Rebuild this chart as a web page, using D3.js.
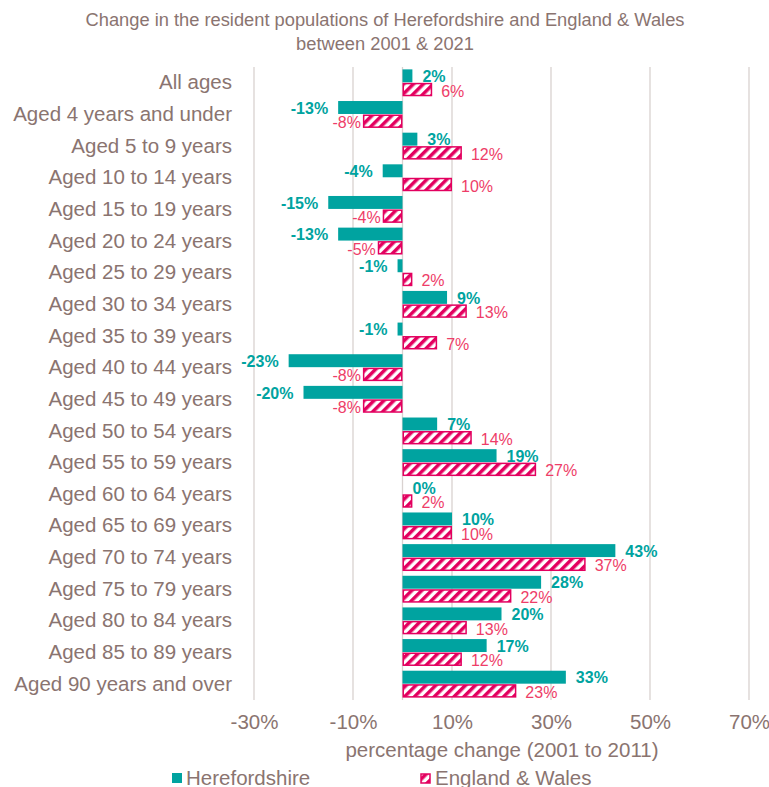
<!DOCTYPE html>
<html><head><meta charset="utf-8">
<script src="https://cdn.jsdelivr.net/npm/d3@7"></script>
<style>body{margin:0;background:#fff}svg{display:block;font-family:"Liberation Sans",Arial,sans-serif}</style>
</head><body><svg id="c" width="769" height="787"></svg>
<script>
const categories = ["All ages","Aged 4 years and under","Aged 5 to 9 years","Aged 10 to 14 years","Aged 15 to 19 years","Aged 20 to 24 years","Aged 25 to 29 years","Aged 30 to 34 years","Aged 35 to 39 years","Aged 40 to 44 years","Aged 45 to 49 years","Aged 50 to 54 years","Aged 55 to 59 years","Aged 60 to 64 years","Aged 65 to 69 years","Aged 70 to 74 years","Aged 75 to 79 years","Aged 80 to 84 years","Aged 85 to 89 years","Aged 90 years and over"];
const herefordshire = [2,-13,3,-4,-15,-13,-1,9,-1,-23,-20,7,19,0,10,43,28,20,17,33];
const englandWales = [6,-8,12,10,-4,-5,2,13,7,-8,-8,14,27,2,10,37,22,13,12,23];
const tickValues = [-30,-10,10,30,50,70];
const seriesNames = ["Herefordshire","England & Wales"];

const textCol = "#8a7470", teal = "#00a3a0", pink = "#e3005f", pinkLabel = "#ee3d68";
const FS = 20.5, LFS = 16;
const svg = d3.select("#c");
const defs = svg.append("defs");
const pat = defs.append("pattern").attr("id","hatch").attr("patternUnits","userSpaceOnUse")
  .attr("width",7).attr("height",7).attr("patternTransform","rotate(45)");
pat.append("rect").attr("width",7).attr("height",7).attr("fill","#fff");
pat.append("rect").attr("width",3.5).attr("height",7).attr("fill",pink);

const x = d3.scaleLinear().domain([-30,70]).range([254,749]);
const y = d3.scaleBand().domain(categories).range([67,700]).paddingInner(0.15).paddingOuter(0.075);
const yi = d3.scaleBand().domain(seriesNames).range([0,y.bandwidth()]);

// title
svg.append("text").attr("x",385).attr("y",26).attr("text-anchor","middle").attr("font-size",18.3).attr("fill",textCol)
  .text("Change in the resident populations of Herefordshire and England & Wales");
svg.append("text").attr("x",385).attr("y",50).attr("text-anchor","middle").attr("font-size",18.3).attr("fill",textCol)
  .text("between 2001 & 2021");

// gridlines
svg.append("g").selectAll("line").data(tickValues).join("line")
  .attr("x1",d=>x(d)).attr("x2",d=>x(d)).attr("y1",67).attr("y2",700)
  .attr("stroke","#d9d2d0").attr("stroke-width",1.3);
svg.append("line").attr("x1",x(0)).attr("x2",x(0)).attr("y1",67).attr("y2",700).attr("stroke","#d9d2d0").attr("stroke-width",1.3);

// x axis
const xa = svg.append("g").attr("transform","translate(0,700)")
  .call(d3.axisBottom(x).tickValues(tickValues).tickFormat(d=>d+"%").tickSize(0).tickPadding(14));
xa.select(".domain").remove();
xa.selectAll("text").attr("font-size",FS).attr("fill",textCol).attr("font-family","Liberation Sans, Arial, sans-serif");

// y axis labels
const ya = svg.append("g").attr("transform","translate(254,0)")
  .call(d3.axisLeft(y).tickSize(0).tickPadding(22));
ya.select(".domain").remove();
ya.selectAll("text").attr("font-size",FS).attr("fill",textCol).attr("font-family","Liberation Sans, Arial, sans-serif");

// bars
const bh = yi.bandwidth();
const g = svg.append("g");
g.selectAll("rect.h").data(categories).join("rect").attr("class","h")
  .attr("x",(d,i)=>x(Math.min(0,herefordshire[i]))).attr("width",(d,i)=>Math.abs(x(herefordshire[i])-x(0)))
  .attr("y",d=>y(d)+yi("Herefordshire")).attr("height",bh-0.5).attr("fill",teal);
g.selectAll("rect.e").data(categories).join("rect").attr("class","e")
  .attr("x",(d,i)=>x(Math.min(0,englandWales[i]))+0.75).attr("width",(d,i)=>Math.max(0,Math.abs(x(englandWales[i])-x(0))-1.5))
  .attr("y",d=>y(d)+yi("England & Wales")+0.75).attr("height",bh-1.5).attr("fill","url(#hatch)")
  .attr("stroke",pink).attr("stroke-width",1.5);

// labels
g.selectAll("text.h").data(categories).join("text").attr("class","h")
  .attr("x",(d,i)=>herefordshire[i]<0 ? x(herefordshire[i])-10 : x(herefordshire[i])+10)
  .attr("text-anchor",(d,i)=>herefordshire[i]<0?"end":"start")
  .attr("y",d=>y(d)+yi("Herefordshire")+bh/2+6).attr("font-size",LFS).attr("font-weight","bold").attr("fill",teal)
  .text((d,i)=>herefordshire[i]+"%");
g.selectAll("text.e").data(categories).join("text").attr("class","e")
  .attr("x",(d,i)=>englandWales[i]<0 ? x(englandWales[i])-2 : x(englandWales[i])+9)
  .attr("text-anchor",(d,i)=>englandWales[i]<0?"end":"start")
  .attr("y",d=>y(d)+yi("England & Wales")+bh/2+7).attr("font-size",LFS).attr("fill",pinkLabel)
  .text((d,i)=>englandWales[i]+"%");

// axis title
svg.append("text").attr("x",502).attr("y",757).attr("text-anchor","middle").attr("font-size",FS).attr("fill",textCol)
  .text("percentage change (2001 to 2011)");

// legend
const lg = svg.append("g");
lg.append("rect").attr("x",172).attr("y",773).attr("width",10).attr("height",10).attr("fill",teal);
lg.append("text").attr("x",186).attr("y",785).attr("font-size",FS).attr("fill",textCol).text(seriesNames[0]);
lg.append("rect").attr("x",421).attr("y",774).attr("width",9).attr("height",9).attr("fill","url(#hatch)").attr("stroke",pink).attr("stroke-width",1.5);
lg.append("text").attr("x",435).attr("y",785).attr("font-size",FS).attr("fill",textCol).text(seriesNames[1]);
</script></body></html>
